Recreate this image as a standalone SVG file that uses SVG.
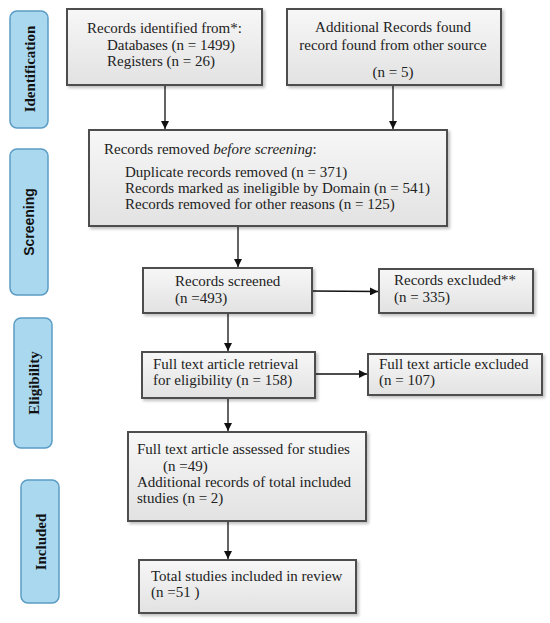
<svg xmlns="http://www.w3.org/2000/svg" width="550" height="623" viewBox="0 0 550 623">
<defs>
<linearGradient id="g" x1="0" y1="0" x2="0" y2="1">
<stop offset="0" stop-color="#f7f7f7"/>
<stop offset="1" stop-color="#e2e2e2"/>
</linearGradient>
<filter id="sh" x="-5%" y="-5%" width="115%" height="120%">
<feDropShadow dx="2" dy="2" stdDeviation="1.5" flood-color="#000" flood-opacity="0.25"/>
</filter>
<marker id="ah" viewBox="0 0 10 10" refX="10" refY="5" markerWidth="8" markerHeight="8" markerUnits="userSpaceOnUse" orient="auto">
<path d="M0,0 L10,5 L0,10 z" fill="#111"/>
</marker>
</defs>
<style>
.box{fill:url(#g);stroke:#4d4d4d;stroke-width:2;filter:url(#sh)}
.side{fill:#a9d8ef;stroke:#5b9cc4;stroke-width:1.5}
.t{font-family:"Liberation Serif",serif;font-size:15px;fill:#222}
.st{font-family:"Liberation Serif",serif;font-size:15px;font-weight:bold;fill:#111;text-anchor:middle}
.ss{font-family:"Liberation Sans",sans-serif;font-size:14px;font-weight:bold;fill:#111;text-anchor:middle}
.c{stroke:#111;stroke-width:1.3;fill:none;marker-end:url(#ah)}
</style>
<rect width="550" height="623" fill="#fff"/>

<g id="phase-identification">
<rect class="side" x="10" y="11" width="38" height="117" rx="7"/>
<text class="st" transform="translate(34.5,69) rotate(-90)">Identification</text>
</g>
<g id="phase-screening">
<rect class="side" x="10" y="149" width="38" height="146" rx="7"/>
<text class="ss" transform="translate(34,222) rotate(-90)">Screening</text>
</g>
<g id="phase-eligibility">
<rect class="side" x="14" y="318" width="38" height="130" rx="7"/>
<text class="st" transform="translate(38.5,383) rotate(-90)">Eligibility</text>
</g>
<g id="phase-included">
<rect class="side" x="21" y="480" width="38" height="123" rx="7"/>
<text class="st" transform="translate(45.5,542) rotate(-90)">Included</text>
</g>

<g id="connectors">
<line class="c" x1="165" y1="85" x2="165" y2="129"/>
<line class="c" x1="393" y1="85" x2="393" y2="129"/>
<line class="c" x1="238" y1="226" x2="238" y2="267"/>
<line class="c" x1="312" y1="291" x2="378" y2="291.5"/>
<line class="c" x1="228" y1="313" x2="228" y2="351"/>
<line class="c" x1="315" y1="374" x2="367" y2="374"/>
<line class="c" x1="228" y1="398" x2="228" y2="431"/>
<line class="c" x1="228" y1="521" x2="228" y2="559"/>
</g>

<g id="n-identified">
<rect class="box" x="67" y="9" width="195" height="76"/>
<text class="t" x="87" y="33">Records identified from*:</text>
<text class="t" x="107" y="50">Databases (n = 1499)</text>
<text class="t" x="107" y="66">Registers (n = 26)</text>
</g>
<g id="n-additional">
<rect class="box" x="287" y="9" width="214" height="76"/>
<text class="t" x="393" y="32" text-anchor="middle">Additional Records found</text>
<text class="t" x="393" y="50" text-anchor="middle">record found from other source</text>
<text class="t" x="393" y="77" text-anchor="middle">(n = 5)</text>
</g>
<g id="n-removed">
<rect class="box" x="89" y="130" width="358" height="96"/>
<text class="t" x="104" y="154">Records removed <tspan font-style="italic">before screening</tspan>:</text>
<text class="t" x="125" y="177">Duplicate records removed (n = 371)</text>
<text class="t" x="125" y="193">Records marked as ineligible by Domain (n = 541)</text>
<text class="t" x="125" y="209">Records removed for other reasons (n = 125)</text>
</g>
<g id="n-screened">
<rect class="box" x="143" y="268" width="169" height="45"/>
<text class="t" x="175" y="286">Records screened</text>
<text class="t" x="175" y="303">(n =493)</text>
</g>
<g id="n-excluded">
<rect class="box" x="379" y="269" width="154" height="44"/>
<text class="t" x="394" y="285">Records excluded**</text>
<text class="t" x="394" y="302">(n = 335)</text>
</g>
<g id="n-retrieval">
<rect class="box" x="142" y="352" width="173" height="46"/>
<text class="t" x="153" y="369">Full text article retrieval</text>
<text class="t" x="153" y="385">for eligibility (n = 158)</text>
</g>
<g id="n-ft-excluded">
<rect class="box" x="368" y="354" width="174" height="41"/>
<text class="t" x="379" y="369">Full text article excluded</text>
<text class="t" x="379" y="385">(n = 107)</text>
</g>
<g id="n-assessed">
<rect class="box" x="128" y="432" width="238" height="89"/>
<text class="t" x="137" y="454">Full text article assessed for studies</text>
<text class="t" x="163" y="471">(n =49)</text>
<text class="t" x="137" y="487">Additional records of total included</text>
<text class="t" x="137" y="503">studies (n = 2)</text>
</g>
<g id="n-included">
<rect class="box" x="139" y="560" width="217" height="53"/>
<text class="t" x="151" y="581">Total studies included in review</text>
<text class="t" x="151" y="597">(n =51 )</text>
</g>
</svg>
